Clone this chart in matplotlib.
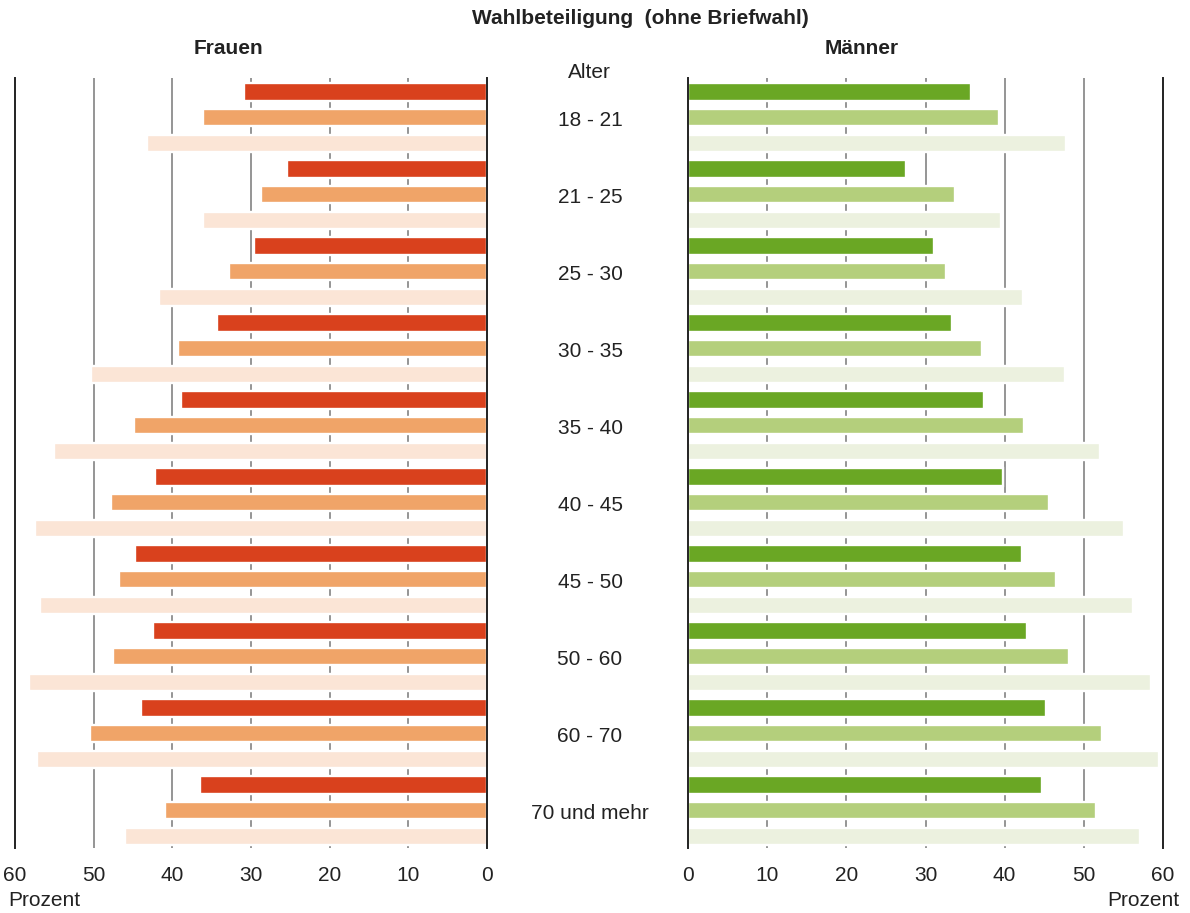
import numpy as np
import matplotlib
matplotlib.use("Agg")
import matplotlib.pyplot as plt

plt.rcParams['font.family'] = ['Liberation Sans', 'DejaVu Sans']

# age groups (center labels)
altersgruppen = ["18 - 21", "21 - 25", "25 - 30", "30 - 35", "35 - 40",
                 "40 - 45", "45 - 50", "50 - 60", "60 - 70", "70 und mehr"]

# Frauen, three bars per age group (top to bottom)
frauen_1 = [30.9, 25.4, 29.6, 34.3, 38.9, 42.2, 44.7, 42.5, 44.0, 36.5]
frauen_2 = [36.1, 28.7, 32.8, 39.3, 44.9, 47.8, 46.8, 47.5, 50.5, 40.9]
frauen_3 = [43.2, 36.1, 41.7, 50.3, 55.0, 57.5, 56.8, 58.2, 57.2, 46.0]

# Maenner, three bars per age group (top to bottom)
maenner_1 = [35.7, 27.5, 31.1, 33.3, 37.4, 39.8, 42.2, 42.8, 45.2, 44.7]
maenner_2 = [39.3, 33.7, 32.6, 37.1, 42.4, 45.6, 46.5, 48.1, 52.3, 51.5]
maenner_3 = [47.7, 39.5, 42.3, 47.6, 52.0, 55.1, 56.2, 58.5, 59.5, 57.1]

xticks = [0, 10, 20, 30, 40, 50, 60]

farben_f = ["#d9411d", "#f0a468", "#fbe5d6"]
farben_m = ["#6aa724", "#b4cf7c", "#ecf1df"]

W, H = 1190, 913
fig = plt.figure(figsize=(W / 100, H / 100), dpi=100)


def fx(px):
    return px / W


def fy(py):
    return 1 - py / H


ax_f = fig.add_axes([fx(15), fy(848), fx(487) - fx(15), fy(78) - fy(848)])
ax_m = fig.add_axes([fx(688), fy(848), fx(1163) - fx(688), fy(78) - fy(848)])

n = len(altersgruppen)
basis = np.arange(n) * 3


def panel(ax, serien, farben):
    for j, (werte, farbe) in enumerate(zip(serien, farben)):
        ax.barh(basis + j, werte, height=0.675, color=farbe,
                edgecolor="white", linewidth=1.7, zorder=2)
    for g in xticks[1:-1]:
        ax.axvline(g, color="#8c8c8c", lw=1.3, zorder=0)
    ax.set_ylim(29.45, -0.55)
    ax.set_yticks([])
    ax.set_xticks(xticks)
    ax.tick_params(axis="x", length=0, pad=13, labelsize=15, colors="#222222")
    ax.spines["top"].set_visible(False)
    ax.spines["bottom"].set_visible(False)
    for s in ("left", "right"):
        ax.spines[s].set_color("#222222")
        ax.spines[s].set_linewidth(1.4)
        ax.spines[s].set_zorder(3)


panel(ax_f, [frauen_1, frauen_2, frauen_3], farben_f)
ax_f.set_xlim(60, 0)
panel(ax_m, [maenner_1, maenner_2, maenner_3], farben_m)
ax_m.set_xlim(0, 60)

# age labels in the middle, aligned with the middle bar of each group
for i, lab in enumerate(altersgruppen):
    y_ax = (29.45 - (basis[i] + 1)) / 30.0
    y_fig = fy(848) + y_ax * (fy(78) - fy(848)) - 3 / H
    fig.text(fx(590), y_fig, lab, ha="center", va="center", fontsize=15,
             color="#222222")

fig.text(fx(589), fy(72), "Alter", ha="center", va="center", fontsize=15,
         color="#222222")
fig.text(fx(640), fy(19), "Wahlbeteiligung  (ohne Briefwahl)", ha="center",
         va="center", fontsize=15, fontweight="bold", color="#222222")
fig.text(fx(228), fy(48), "Frauen", ha="center", va="center", fontsize=15,
         fontweight="bold", color="#222222")
fig.text(fx(862), fy(48), "Männer", ha="center", va="center", fontsize=15,
         fontweight="bold", color="#222222")
fig.text(fx(8), fy(900), "Prozent", ha="left", va="center", fontsize=15,
         color="#222222")
fig.text(fx(1179), fy(900), "Prozent", ha="right", va="center", fontsize=15,
         color="#222222")

fig.savefig("out.png", dpi=100, facecolor="white")
